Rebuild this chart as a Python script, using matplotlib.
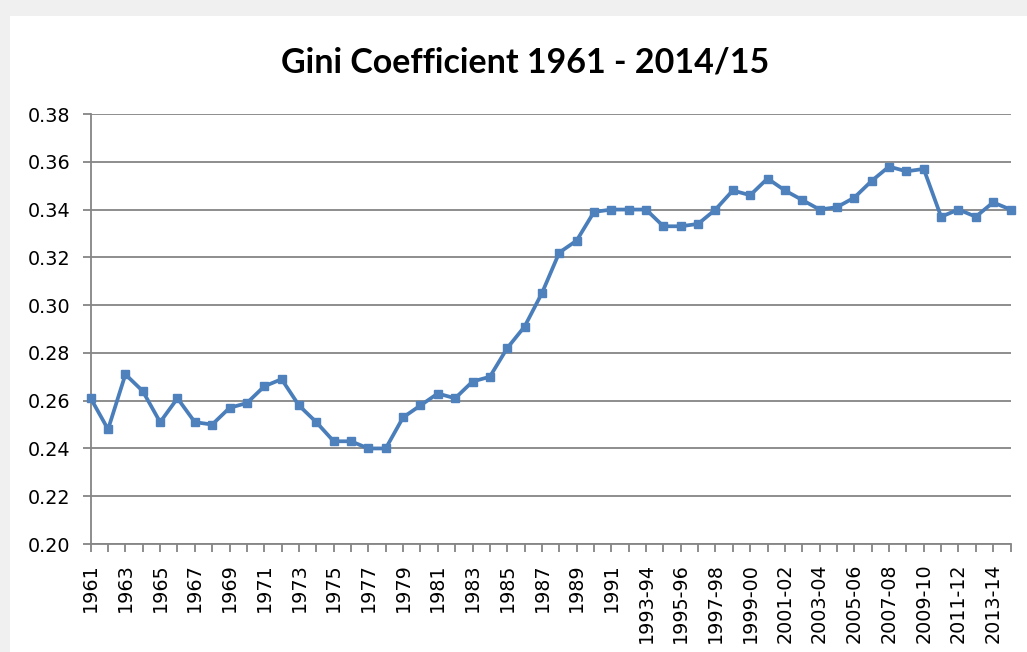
import matplotlib
matplotlib.use("Agg")
import matplotlib.pyplot as plt
from matplotlib.patches import Rectangle

years = [str(y) for y in range(1961, 1993)]
fiscal_years = [f"{y}-{str(y + 1)[-2:]}" for y in range(1993, 2015)]
categories = years + fiscal_years

gini = [0.261, 0.248, 0.271, 0.264, 0.251, 0.261, 0.251, 0.250, 0.257, 0.259,
        0.266, 0.269, 0.258, 0.251, 0.243, 0.243, 0.240, 0.240, 0.253, 0.258,
        0.263, 0.261, 0.268, 0.270, 0.282, 0.291, 0.305, 0.322, 0.327, 0.339,
        0.340, 0.340, 0.340, 0.333, 0.333, 0.334, 0.340, 0.348, 0.346, 0.353,
        0.348, 0.344, 0.340, 0.341, 0.345, 0.352, 0.358, 0.356, 0.357, 0.337,
        0.340, 0.337, 0.343, 0.340]

y_ticks = [0.20, 0.22, 0.24, 0.26, 0.28, 0.30, 0.32, 0.34, 0.36, 0.38]
title = "Gini Coefficient 1961 - 2014/15"

W, H = 1027, 652
fig = plt.figure(figsize=(W / 100, H / 100), dpi=100)
fig.patch.set_facecolor("#f0f0f0")
# white chart area (screenshot with shadow on top/left)
fig.patches.append(Rectangle((10 / W, 0), 1, (H - 16) / H, transform=fig.transFigure,
                             facecolor="white", edgecolor="none", zorder=-10))

left, right, top, bottom = 90.7, 1010.5, 114, 544
ax = fig.add_axes([left / W, (H - bottom) / H, (right - left) / W, (bottom - top) / H])
ax.set_facecolor("none")
ax.set_zorder(5)

x = list(range(len(categories)))
ax.plot(x, gini, color="#4A7EBB", lw=2.7, marker="s", markersize=6.4,
        markerfacecolor="#4F81BD", markeredgecolor="#4F81BD", clip_on=False, zorder=3)

ax.set_xlim(0, len(categories) - 1)
ax.set_ylim(y_ticks[0], y_ticks[-1])
ax.set_yticks(y_ticks)
ax.set_yticklabels([f"{v:.2f}" for v in y_ticks])
ax.set_xticks(x)
ax.set_xticklabels([c if i % 2 == 0 else "" for i, c in enumerate(categories)], rotation=90)

grey = "#858585"
ax.grid(axis="y", color=grey, lw=1.3)
ax.set_axisbelow(True)
for s in ["top", "right"]:
    ax.spines[s].set_visible(False)
for s in ["left", "bottom"]:
    ax.spines[s].set_color(grey)
    ax.spines[s].set_linewidth(1.3)
    ax.spines[s].set_zorder(2.5)
ax.tick_params(axis="both", direction="out", length=5.8, width=1.3, color=grey,
               labelsize=13.8, labelcolor="black")
ax.tick_params(axis="y", pad=9)
ax.tick_params(axis="x", pad=8)

fig.text(525 / W, (H - 63) / H, title, ha="center", va="center",
         fontsize=24.5, fontweight="bold", family="Lato", zorder=6)

fig.savefig("out.png", dpi=100, facecolor=fig.get_facecolor())
